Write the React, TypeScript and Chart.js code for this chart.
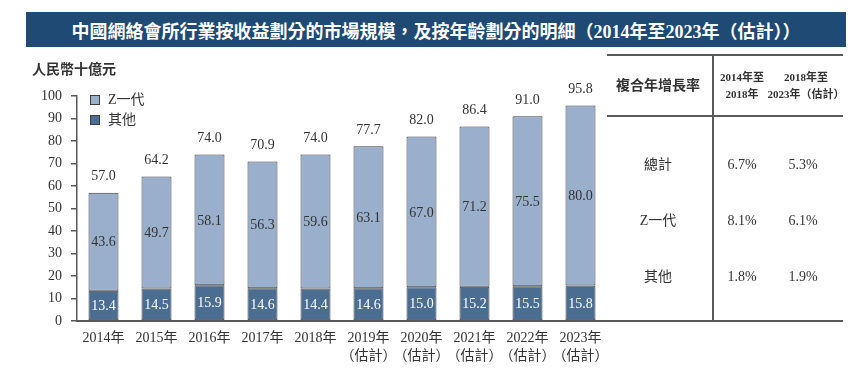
import React, { useEffect, useRef } from "react";
import { Chart, registerables } from "chart.js";

Chart.register(...registerables);

const TITLE = "中國網絡會所行業按收益劃分的市場規模，及按年齡劃分的明細（2014年至2023年（估計））";
const Y_TITLE = "人民幣十億元";
const YEARS = ["2014年", "2015年", "2016年", "2017年", "2018年", "2019年", "2020年", "2021年", "2022年", "2023年"];
const ESTIMATED = [false, false, false, false, false, true, true, true, true, true];
const GEN_Z = [43.6, 49.7, 58.1, 56.3, 59.6, 63.1, 67.0, 71.2, 75.5, 80.0];
const OTHERS = [13.4, 14.5, 15.9, 14.6, 14.4, 14.6, 15.0, 15.2, 15.5, 15.8];
const TOTALS = [57.0, 64.2, 74.0, 70.9, 74.0, 77.7, 82.0, 86.4, 91.0, 95.8];
const SERIES_NAMES = ["Z一代", "其他"];

const CAGR_HEADER = "複合年增長率";
const CAGR_PERIODS = [["2014年至", "2018年"], ["2018年至", "2023年（估計）"]];
const CAGR_ROWS = ["總計", "Z一代", "其他"];
const CAGR_P1 = ["6.7%", "8.1%", "1.8%"];
const CAGR_P2 = ["5.3%", "6.1%", "1.9%"];

const FONT = '"Liberation Serif", "Noto Sans CJK TC", serif';
const TEXT = "#333333";
const LIGHT = "#9aafcb";
const DARK = "#4b6d91";
const EDGE = "#3d3d3d";
const LINE = "#5a5a5a";

const labelsPlugin = {
  id: "valueLabels",
  afterDatasetsDraw(chart: any) {
    const ctx = chart.ctx;
    ctx.save();
    ctx.font = `14px ${FONT}`;
    ctx.textAlign = "center";
    ctx.textBaseline = "middle";
    chart.data.datasets.forEach((ds: any, di: number) => {
      const meta = chart.getDatasetMeta(di);
      meta.data.forEach((bar: any, i: number) => {
        const mid = (bar.y + bar.base) / 2;
        ctx.fillStyle = di === 0 ? "#ffffff" : TEXT;
        ctx.fillText(Number(ds.data[i]).toFixed(1), bar.x, mid + 1);
      });
    });
    const top = chart.getDatasetMeta(1);
    top.data.forEach((bar: any, i: number) => {
      ctx.fillStyle = TEXT;
      ctx.fillText(TOTALS[i].toFixed(1), bar.x, bar.y - 16);
    });
    ctx.restore();
  },
};

const abs = (x: number, y: number, extra: React.CSSProperties = {}): React.CSSProperties => ({
  position: "absolute",
  left: x,
  top: y,
  transform: "translate(-50%, -50%)",
  whiteSpace: "nowrap",
  fontFamily: FONT,
  color: TEXT,
  fontSize: 14,
  lineHeight: "18px",
  textAlign: "center",
  ...extra,
});

export default function App() {
  const ref = useRef<HTMLCanvasElement | null>(null);

  useEffect(() => {
    const canvas = ref.current;
    if (!canvas) return;
    const chart = new Chart(canvas, {
      type: "bar",
      data: {
        labels: YEARS.map((y, i) => (ESTIMATED[i] ? [y, "（估計）"] : y)),
        datasets: [
          {
            label: SERIES_NAMES[1],
            data: OTHERS,
            backgroundColor: DARK,
            borderColor: EDGE,
            borderWidth: 1,
            borderSkipped: false,
            barPercentage: 0.566,
            categoryPercentage: 1,
          },
          {
            label: SERIES_NAMES[0],
            data: GEN_Z,
            backgroundColor: LIGHT,
            borderColor: EDGE,
            borderWidth: 1,
            borderSkipped: false,
            barPercentage: 0.566,
            categoryPercentage: 1,
          },
        ],
      },
      options: {
        responsive: false,
        animation: false,
        devicePixelRatio: 1,
        layout: { padding: { left: 0, top: 96, right: 257, bottom: 0 } },
        plugins: {
          legend: { display: false },
          tooltip: { enabled: false },
          title: { display: false },
        },
        scales: {
          x: {
            stacked: true,
            grid: { display: false, drawTicks: false },
            border: { display: true, color: LINE, width: 2 },
            ticks: {
              color: TEXT,
              font: { family: FONT, size: 14, lineHeight: 1.28 },
              padding: 8,
              maxRotation: 0,
              autoSkip: false,
            },
            afterFit: (s: any) => {
              s.height = 54;
            },
          },
          y: {
            stacked: true,
            min: 0,
            max: 100,
            grid: { drawOnChartArea: false, drawTicks: true, tickLength: 6, color: LINE, lineWidth: 1.5 },
            border: { display: true, color: LINE, width: 1.5 },
            ticks: {
              stepSize: 10,
              color: TEXT,
              font: { family: FONT, size: 14 },
              padding: 9,
            },
            afterFit: (s: any) => {
              s.width = 77;
            },
          },
        },
      },
      plugins: [labelsPlugin],
    });
    return () => chart.destroy();
  }, []);

  const hline = (x1: number, x2: number, y: number): React.CSSProperties => ({
    position: "absolute",
    left: x1,
    top: y - 1,
    width: x2 - x1,
    height: 2,
    background: LINE,
  });

  return (
    <div style={{ position: "fixed", left: 0, top: 0, width: 864, height: 375, background: "#fff", overflow: "hidden" }}>
      <canvas ref={ref} width={864} height={375} style={{ position: "absolute", left: 0, top: 0, width: 864, height: 375 }} />
      <div
        style={{
          position: "absolute",
          left: 26,
          top: 12,
          width: 820,
          height: 35,
          background: "#1f4a74",
          display: "flex",
          alignItems: "center",
          justifyContent: "center",
          color: "#fff",
          fontFamily: FONT,
          fontWeight: "bold",
          fontSize: 18,
          whiteSpace: "nowrap",
        }}
      >
        {TITLE}
      </div>
      <div style={abs(74, 70, { fontWeight: "bold" })}>{Y_TITLE}</div>
      {/* legend */}
      <div style={{ position: "absolute", left: 90, top: 95, width: 10, height: 10, background: LIGHT, border: `1px solid ${EDGE}`, boxSizing: "border-box" }} />
      <div style={{ position: "absolute", left: 90, top: 115, width: 10, height: 10, background: DARK, border: `1px solid ${EDGE}`, boxSizing: "border-box" }} />
      <div style={abs(108, 100, { transform: "translate(0, -50%)" })}>{SERIES_NAMES[0]}</div>
      <div style={abs(108, 120, { transform: "translate(0, -50%)" })}>{SERIES_NAMES[1]}</div>
      {/* table */}
      <div style={hline(607, 843, 55)} />
      <div style={hline(607, 843, 116)} />
      <div style={hline(607, 843, 321)} />
      <div style={{ position: "absolute", left: 712, top: 55, width: 2, height: 266, background: LINE }} />
      <div style={abs(658, 86, { fontWeight: "bold" })}>{CAGR_HEADER}</div>
      <div style={abs(742, 86, { fontWeight: "bold", fontSize: 11, lineHeight: "17px" })}>
        {CAGR_PERIODS[0][0]}
        <br />
        {CAGR_PERIODS[0][1]}
      </div>
      <div style={abs(806, 86, { fontWeight: "bold", fontSize: 11, lineHeight: "17px" })}>
        {CAGR_PERIODS[1][0]}
        <br />
        {CAGR_PERIODS[1][1]}
      </div>
      {CAGR_ROWS.map((r, i) => {
        const y = [165, 221, 277][i];
        return (
          <React.Fragment key={r}>
            <div style={abs(658, y)}>{r}</div>
            <div style={abs(742, y)}>{CAGR_P1[i]}</div>
            <div style={abs(803, y)}>{CAGR_P2[i]}</div>
          </React.Fragment>
        );
      })}
    </div>
  );
}
